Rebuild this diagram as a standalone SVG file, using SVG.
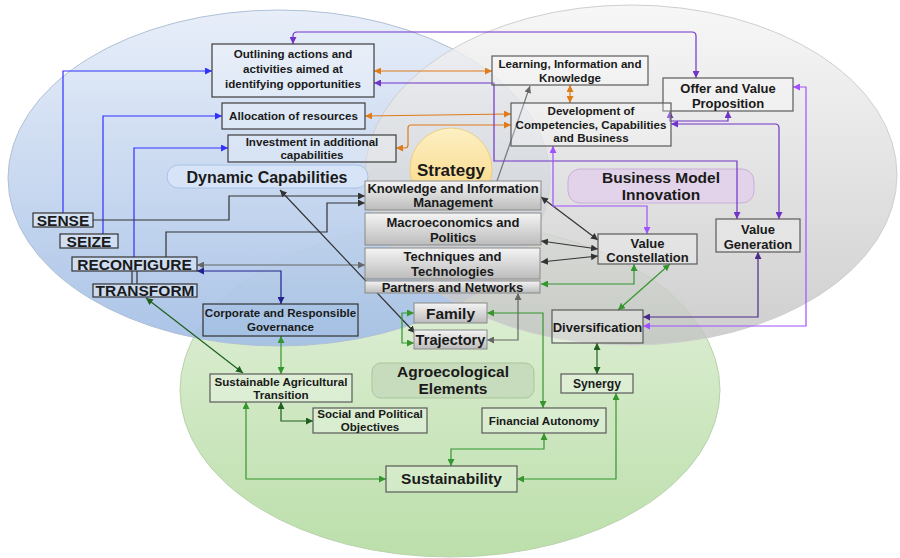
<svg xmlns="http://www.w3.org/2000/svg" width="900" height="558" viewBox="0 0 900 558">
<defs>
<linearGradient id="gBlue" x1="0" y1="0" x2="0" y2="1"><stop offset="0" stop-color="#e6edf9"/><stop offset="1" stop-color="#a4bfe5"/></linearGradient>
<linearGradient id="gGray" x1="0" y1="0" x2="0" y2="1"><stop offset="0" stop-color="#f5f5f5"/><stop offset="1" stop-color="#c2c2c2"/></linearGradient>
<linearGradient id="gGreen" x1="0" y1="0" x2="0" y2="1"><stop offset="0" stop-color="#e6f2df"/><stop offset="1" stop-color="#bcdfab"/></linearGradient>
<linearGradient id="gBox" x1="0" y1="0" x2="0" y2="1"><stop offset="0" stop-color="#f4f4f4"/><stop offset="1" stop-color="#bcbcbc"/></linearGradient>
<linearGradient id="gSun" x1="0" y1="0" x2="0" y2="1"><stop offset="0" stop-color="#fdf0c4"/><stop offset="1" stop-color="#f8d47a"/></linearGradient>
<marker id="mBlue" viewBox="0 0 7 7" refX="7" refY="3.5" markerWidth="7" markerHeight="7" markerUnits="userSpaceOnUse" orient="auto-start-reverse"><path d="M0,0 L7,3.5 L0,7 z" fill="#3030ff"/></marker>
<marker id="mDark" viewBox="0 0 7 7" refX="7" refY="3.5" markerWidth="7" markerHeight="7" markerUnits="userSpaceOnUse" orient="auto-start-reverse"><path d="M0,0 L7,3.5 L0,7 z" fill="#333"/></marker>
<marker id="mGray" viewBox="0 0 7 7" refX="7" refY="3.5" markerWidth="7" markerHeight="7" markerUnits="userSpaceOnUse" orient="auto-start-reverse"><path d="M0,0 L7,3.5 L0,7 z" fill="#666"/></marker>
<marker id="mNavy" viewBox="0 0 7 7" refX="7" refY="3.5" markerWidth="7" markerHeight="7" markerUnits="userSpaceOnUse" orient="auto-start-reverse"><path d="M0,0 L7,3.5 L0,7 z" fill="#22228c"/></marker>
<marker id="mDkGreen" viewBox="0 0 7 7" refX="7" refY="3.5" markerWidth="7" markerHeight="7" markerUnits="userSpaceOnUse" orient="auto-start-reverse"><path d="M0,0 L7,3.5 L0,7 z" fill="#1f5f1f"/></marker>
<marker id="mGreen" viewBox="0 0 7 7" refX="7" refY="3.5" markerWidth="7" markerHeight="7" markerUnits="userSpaceOnUse" orient="auto-start-reverse"><path d="M0,0 L7,3.5 L0,7 z" fill="#35962e"/></marker>
<marker id="mOrange" viewBox="0 0 7 7" refX="7" refY="3.5" markerWidth="7" markerHeight="7" markerUnits="userSpaceOnUse" orient="auto-start-reverse"><path d="M0,0 L7,3.5 L0,7 z" fill="#e07b1a"/></marker>
<marker id="mPurple" viewBox="0 0 7 7" refX="7" refY="3.5" markerWidth="7" markerHeight="7" markerUnits="userSpaceOnUse" orient="auto-start-reverse"><path d="M0,0 L7,3.5 L0,7 z" fill="#7034c8"/></marker>
<marker id="mLtPurple" viewBox="0 0 7 7" refX="7" refY="3.5" markerWidth="7" markerHeight="7" markerUnits="userSpaceOnUse" orient="auto-start-reverse"><path d="M0,0 L7,3.5 L0,7 z" fill="#a050ff"/></marker>
<marker id="mDkPurple" viewBox="0 0 7 7" refX="7" refY="3.5" markerWidth="7" markerHeight="7" markerUnits="userSpaceOnUse" orient="auto-start-reverse"><path d="M0,0 L7,3.5 L0,7 z" fill="#4b2a8a"/></marker>
<style>
text{font-family:"Liberation Sans",Arial,sans-serif;font-weight:bold;fill:#1a1a1a;text-anchor:middle}
.s{font-size:11.6px}
.m{font-size:13px}
.l{font-size:15.5px}
.xl{font-size:16px}
.bx{fill:#ffffff;fill-opacity:0.22;stroke:#3c3c3c;stroke-width:1.2}
.bg{fill:#ffffff;fill-opacity:0.25;stroke:#5a5a5a;stroke-width:1.2}
.gb{fill:url(#gBox);stroke:#8a8a8a;stroke-width:1}
.kw{fill:#ffffff;fill-opacity:0.3;stroke:#333;stroke-width:1.2}
.c{fill:none;stroke-width:1.2}
.blue{stroke:#3030ff;marker-end:url(#mBlue)}
.dark{stroke:#333;marker-start:url(#mDark);marker-end:url(#mDark)}
.gray{stroke:#666;marker-start:url(#mGray);marker-end:url(#mGray)}
.navy{stroke:#22228c;marker-start:url(#mNavy);marker-end:url(#mNavy)}
.dg{stroke:#1f5f1f;marker-start:url(#mDkGreen);marker-end:url(#mDkGreen)}
.gr{stroke:#35962e;marker-start:url(#mGreen);marker-end:url(#mGreen)}
.or{stroke:#e07b1a;marker-start:url(#mOrange);marker-end:url(#mOrange)}
.pu{stroke:#7034c8;marker-start:url(#mPurple);marker-end:url(#mPurple)}
.lp{stroke:#a050ff;marker-start:url(#mLtPurple);marker-end:url(#mLtPurple)}
.dp{stroke:#4b2a8a;marker-start:url(#mDkPurple);marker-end:url(#mDkPurple)}
</style>
</defs>

<g id="backgrounds">
<ellipse cx="450" cy="390" rx="270" ry="167" fill="url(#gGreen)" stroke="#b9d2ad" stroke-width="1"/>
<ellipse cx="279" cy="178" rx="271" ry="168" fill="url(#gBlue)" fill-opacity="0.93" stroke="#b0c0d6" stroke-width="1"/>
<ellipse cx="631" cy="175" rx="266" ry="170" fill="url(#gGray)" fill-opacity="0.8" stroke="#cfcfcf" stroke-width="1"/>
</g>

<g id="strategy">
<circle cx="451" cy="169" r="41" fill="url(#gSun)" stroke="#eccf86" stroke-width="1"/>
<text x="451" y="176" style="font-size:17px">Strategy</text>
</g>

<g id="dynamic-capabilities">
<rect x="167" y="165" width="201" height="23" rx="11.5" fill="#d7e4f7" stroke="#a9c2e6" stroke-width="1"/>
<text class="xl" x="267" y="183">Dynamic Capabilities</text>
</g>
<g id="business-model-innovation">
<rect x="568" y="169" width="186" height="34" rx="12" fill="#e2d3ea" stroke="#c8afd8" stroke-width="1"/>
<text class="l" x="661" y="183">Business Model</text>
<text class="l" x="661" y="200">Innovation</text>
</g>
<g id="agroecological-elements">
<rect x="372" y="363" width="162" height="35" rx="9" fill="#c7dcbd" stroke="#a9c59c" stroke-width="1"/>
<text class="l" x="453" y="377">Agroecological</text>
<text class="l" x="453" y="394">Elements</text>
</g>

<g id="connectors">
<path class="c blue" d="M63,213 V71 H212"/>
<path class="c blue" d="M103,234 V116 H222"/>
<path class="c blue" d="M134,257 V148 H228"/>
<path class="c" style="stroke:#333;marker-end:url(#mDark)" d="M93,220 H229 V196 H365"/>
<path class="c" style="stroke:#333;marker-end:url(#mDark)" d="M166,257 V232 H327 V203 H365"/>
<path class="c gray" d="M197,265 H365"/>
<path class="c navy" d="M197,271 H281 V304"/>
<path class="c" style="stroke:#333" d="M132,271 V284 M137,271 V284"/>
<path class="c dg" d="M146,298 L243,373"/>
<path class="c dark" d="M280,190 L415,333"/>
<path class="c" style="stroke:#777;marker-end:url(#mGray)" d="M497,181 L530,86"/>
<path class="c dark" d="M541,197 L598,240"/>
<path class="c dark" d="M541,241 L598,249"/>
<path class="c dark" d="M541,262 L598,256"/>
<path class="c gr" d="M541,284 H634 V264"/>
<path class="c gray" d="M518,293 V340 H487"/>
<path class="c gr" d="M414,313 H402 V343 H414"/>
<path class="c gr" d="M487,313 H543 V408"/>
<path class="c gr" d="M670,264 L618,310"/>
<path class="c dg" d="M597,343 V374"/>
<path class="c dp" d="M643,317 H758 V252"/>
<path class="c lp" d="M643,326 H806 V87 H793"/>
<path class="c gr" d="M281,336 V374"/>
<path class="c dg" d="M281,402 V421 H313"/>
<path class="c gr" d="M246,402 V479 H386"/>
<path class="c gr" d="M544,433 V449 H451 V466"/>
<path class="c gr" d="M517,479 H616 V393"/>
<path class="c or" d="M374,71 H492"/>
<path class="c or" d="M365,116 L511,114"/>
<path class="c or" d="M396,148 H405 Q408,148 408,145 V128 Q408,125 411,125 H511"/>
<path class="c or" d="M570,85 V103"/>
<path class="c pu" d="M293,44 V36 Q293,32 297,32 H692 Q696,32 696,36 V78"/>
<path class="c pu" d="M374,83 H494 V161 H737 V219"/>
<path class="c lp" d="M553,146 V206 H647 V234"/>
<path class="c pu" d="M671,124 H775 Q779,124 779,128 V219"/>
<path class="c pu" d="M670,111 V121 H728 V111"/>
</g>

<g id="outlining"><rect class="bx" x="212" y="44" width="162" height="53"/>
<text class="s" x="293" y="58">Outlining actions and</text><text class="s" x="293" y="73">activities aimed at</text><text class="s" x="293" y="88">identifying opportunities</text></g>
<g id="allocation"><rect class="bx" x="222" y="103" width="143" height="26"/>
<text class="s" x="293.5" y="120">Allocation of resources</text></g>
<g id="investment"><rect class="bx" x="228" y="135" width="168" height="27"/>
<text class="s" x="312" y="146">Investment in additional</text><text class="s" x="312" y="159">capabilities</text></g>

<g id="sense"><rect class="kw" x="33" y="213" width="60" height="14"/><text class="l" x="63" y="225.5">SENSE</text></g>
<g id="seize"><rect class="kw" x="60" y="234" width="58" height="14"/><text class="l" x="89" y="246.5">SEIZE</text></g>
<g id="reconfigure"><rect class="kw" x="72" y="257" width="125" height="14"/><text class="l" x="134.5" y="269.5">RECONFIGURE</text></g>
<g id="transform"><rect class="kw" x="93" y="284" width="104" height="13"/><text class="l" x="145" y="296">TRANSFORM</text></g>

<g id="knowledge"><rect class="gb" x="365" y="181" width="176" height="29"/>
<text class="m" x="453" y="193">Knowledge and Information</text><text class="m" x="453" y="207">Management</text></g>
<g id="macro"><rect class="gb" x="365" y="213" width="176" height="32"/>
<text class="m" x="453" y="227">Macroeconomics and</text><text class="m" x="453" y="242">Politics</text></g>
<g id="techniques"><rect class="gb" x="365" y="248" width="175" height="31"/>
<text class="m" x="452.5" y="261">Techniques and</text><text class="m" x="452.5" y="276">Technologies</text></g>
<g id="partners"><rect class="gb" x="365" y="281" width="175" height="12"/>
<text class="m" x="452.5" y="292">Partners and Networks</text></g>
<g id="family"><rect class="gb" x="414" y="303" width="73" height="20"/>
<text class="l" x="450.5" y="318.5">Family</text></g>
<g id="trajectory"><rect class="gb" x="414" y="330" width="73" height="19"/>
<text x="450.5" y="344.5" style="font-size:14.6px">Trajectory</text></g>

<g id="corporate"><rect x="203" y="304" width="155" height="32" fill="#9fbde3" fill-opacity="0.35" stroke="#333" stroke-width="1.2"/>
<text class="s" x="280.5" y="317">Corporate and Responsible</text><text class="s" x="280.5" y="331">Governance</text></g>
<g id="sat"><rect class="bg" x="210" y="374" width="142" height="28"/>
<text class="s" x="281" y="385.5">Sustainable Agricultural</text><text class="s" x="281" y="398.5">Transition</text></g>
<g id="social"><rect class="bg" x="313" y="408" width="114" height="25"/>
<text class="s" x="370" y="418">Social and Political</text><text class="s" x="370" y="431">Objectives</text></g>
<g id="sustainability"><rect class="bg" x="386" y="466" width="131" height="26"/>
<text class="l" x="451.5" y="484">Sustainability</text></g>
<g id="financial"><rect class="bg" x="482" y="408" width="124" height="25"/>
<text class="s" x="544" y="424.5">Financial Autonomy</text></g>
<g id="synergy"><rect class="bg" x="561" y="374" width="72" height="19"/>
<text x="597" y="388" style="font-size:12.2px">Synergy</text></g>
<g id="diversification"><rect class="bg" x="552" y="310" width="91" height="33"/>
<text class="m" x="597.5" y="332">Diversification</text></g>
<g id="value-constellation"><rect class="bg" x="598" y="234" width="99" height="30"/>
<text class="m" x="647.5" y="247.5">Value</text><text class="m" x="647.5" y="262">Constellation</text></g>
<g id="value-generation"><rect class="bg" x="716" y="219" width="84" height="33"/>
<text class="m" x="758" y="234">Value</text><text class="m" x="758" y="249">Generation</text></g>
<g id="offer"><rect class="bg" x="663" y="78" width="130" height="33"/>
<text class="m" x="728" y="92.5">Offer and Value</text><text class="m" x="728" y="107.5">Proposition</text></g>
<g id="learning"><rect class="bg" x="492" y="56" width="156" height="29"/>
<text class="s" x="570" y="68">Learning, Information and</text><text class="s" x="570" y="81.5">Knowledge</text></g>
<g id="development"><rect class="bg" x="511" y="103" width="160" height="43"/>
<text class="s" x="591" y="114.5">Development of</text><text class="s" x="591" y="128.5">Competencies, Capabilities</text><text class="s" x="591" y="142">and Business</text></g>
</svg>
